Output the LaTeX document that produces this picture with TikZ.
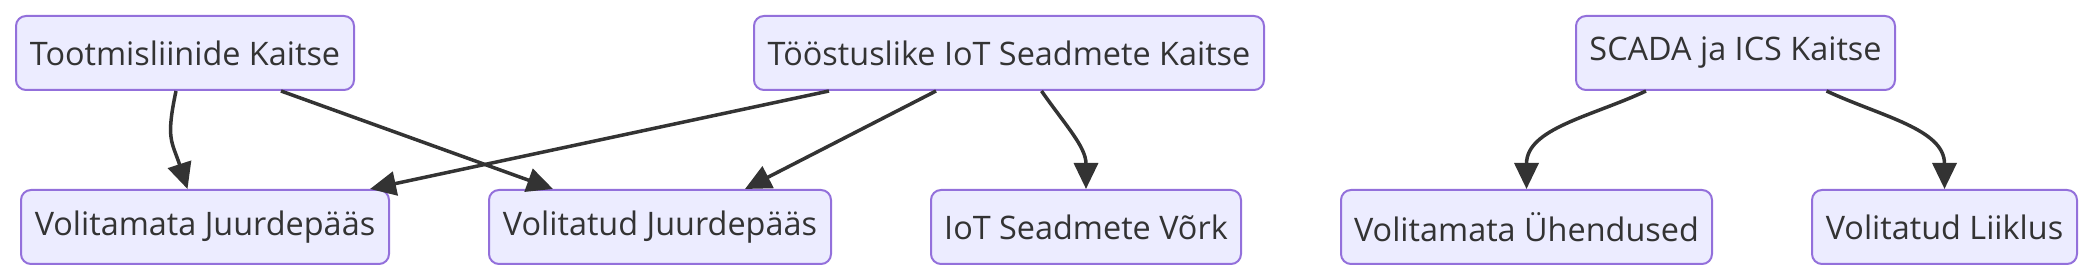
\documentclass[tikz,border=0pt]{standalone}
\usepackage{fontspec}
\setmainfont{Open Sans}
\usetikzlibrary{arrows.meta}
\definecolor{kasttaust}{HTML}{ECECFF}
\definecolor{kastjoon}{HTML}{9370DB}
\definecolor{tekst}{HTML}{333333}
\begin{document}
\begin{tikzpicture}[x=1pt,y=1pt,>={Triangle[length=26pt,width=24pt]},line join=round,
	kast/.style={draw=kastjoon,fill=kasttaust,line width=2pt,rounded corners=10pt,minimum height=74pt,inner sep=0pt,text=tekst,font=\fontsize{32.4}{40}\selectfont},
	nool/.style={->,draw=tekst,line width=3.5pt}]
				\useasboundingbox (0,0) rectangle (2094,280);
				% ülemine rida
				\foreach \n/\x/\w/\t in {TK/185/338/Tootmisliinide Kaitse,IK/1009/510/Tööstuslike IoT Seadmete Kaitse,SK/1735.5/319/SCADA ja ICS Kaitse
				}{\node[kast,minimum width=\w pt] (\n) at (\x,227) {\t};}
				% alumine rida
				\foreach \n/\x/\w/\t in {VJ/205/368/Volitamata Juurdepääs,LJ/660/342/Volitatud Juurdepääs,SV/1086/310/IoT Seadmete Võrk,VU/1526.5/371/Volitamata Ühendused,LL/1944.5/265/Volitatud Liiklus
				}{\node[kast,minimum width=\w pt] (\n) at (\x,53) {\t};}
				\draw[nool] ([xshift=-9pt]TK.south) to[out=-102,in=108,looseness=1.3] ([xshift=-17.5pt]VJ.north);
				\draw[nool] ([xshift=96pt]TK.south) -- ([xshift=-107pt]LJ.north);
				\draw[nool] ([xshift=-180pt]IK.south) -- ([xshift=165pt]VJ.north);
				\draw[nool] ([xshift=-73pt]IK.south) -- ([xshift=85pt]LJ.north);
				\draw[nool] ([xshift=32.5pt]IK.south) to[out=-55,in=90] (SV.north);
				\draw[nool] ([xshift=-89.5pt]SK.south) to[out=-155,in=90] (VU.north);
				\draw[nool] ([xshift=91pt]SK.south) to[out=-25,in=90] (LL.north);
		\end{tikzpicture}
\end{document}
